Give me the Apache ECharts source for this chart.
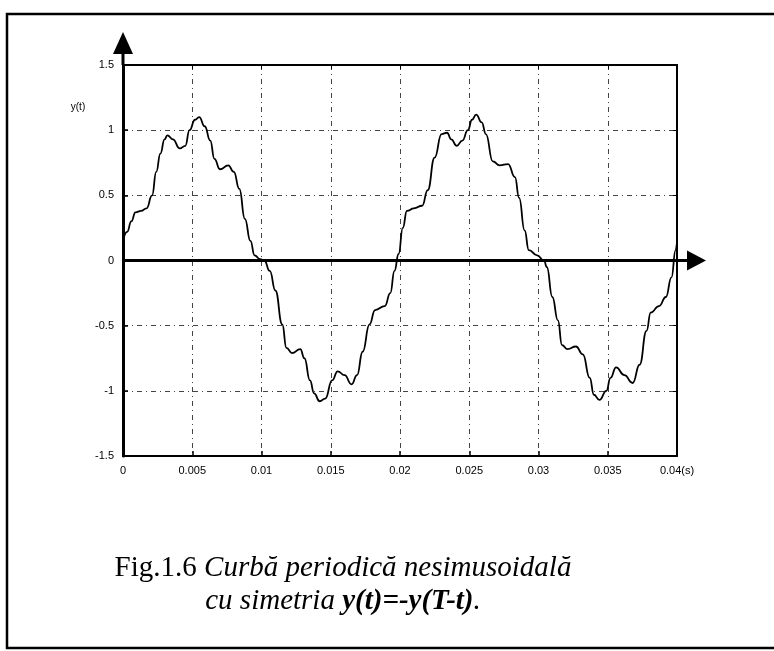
<!DOCTYPE html>
<html>
<head>
<meta charset="utf-8">
<script src="https://cdn.jsdelivr.net/npm/echarts@6/dist/echarts.min.js"></script>
<style>
  html, body { margin: 0; padding: 0; background: #fff; }
  #chart { width: 774px; height: 651px; }
</style>
</head>
<body>
<div id="chart"></div>
<script>
// time (s) and value
const tValues = [
  0, 0.0003, 0.0006, 0.0009, 0.0013, 0.0017, 0.0021, 0.0024, 0.0027, 0.0030,
  0.0032, 0.0036, 0.0041, 0.0045, 0.0048, 0.0052, 0.0055, 0.0059, 0.0063, 0.0066,
  0.0070, 0.0076, 0.0080, 0.0084, 0.0088, 0.0092, 0.0095, 0.0099, 0.0102, 0.0106,
  0.0110, 0.0115, 0.0118, 0.0122, 0.0128, 0.0131, 0.0135, 0.0138, 0.0142, 0.0146,
  0.0151, 0.0155, 0.0160, 0.0165, 0.0169, 0.0173, 0.0178, 0.0182, 0.0189, 0.0193,
  0.0196, 0.0199, 0.0202, 0.0205, 0.0210, 0.0216, 0.0220, 0.0225, 0.0230, 0.0234,
  0.0237, 0.0241, 0.0245, 0.0249, 0.0252, 0.0255, 0.0259, 0.0262, 0.0267, 0.0272,
  0.0278, 0.0283, 0.0286, 0.0290, 0.0293, 0.0299, 0.0304, 0.0306, 0.0310, 0.0314,
  0.0317, 0.0321, 0.0327, 0.0332, 0.0337, 0.0340, 0.0344, 0.0349, 0.0352, 0.0356,
  0.0362, 0.0368, 0.0373, 0.0378, 0.0381, 0.0387, 0.0392, 0.0396, 0.0399, 0.0400
];
const yValues = [
  0.15, 0.22, 0.30, 0.37, 0.38, 0.40, 0.50, 0.68, 0.82, 0.93,
  0.96, 0.93, 0.86, 0.88, 1.00, 1.08, 1.10, 1.03, 0.92, 0.78,
  0.70, 0.73, 0.68, 0.55, 0.32, 0.15, 0.04, 0.01, 0.00, -0.08,
  -0.23, -0.49, -0.67, -0.71, -0.68, -0.75, -0.92, -1.02, -1.08, -1.06,
  -0.92, -0.85, -0.88, -0.95, -0.88, -0.70, -0.49, -0.38, -0.35, -0.25,
  -0.08, 0.05, 0.25, 0.38, 0.40, 0.42, 0.54, 0.79, 0.97, 0.98,
  0.93, 0.88, 0.92, 1.00, 1.08, 1.12, 1.06, 0.97, 0.76, 0.73,
  0.74, 0.64, 0.48, 0.23, 0.08, 0.04, 0.00, -0.05, -0.28, -0.46,
  -0.65, -0.68, -0.66, -0.72, -0.90, -1.03, -1.07, -1.00, -0.90, -0.82,
  -0.88, -0.94, -0.80, -0.54, -0.40, -0.35, -0.28, -0.13, 0.08, 0.14
];
const xTicks = [0, 0.005, 0.01, 0.015, 0.02, 0.025, 0.03, 0.035, 0.04];
const yTicks = [-1.5, -1, -0.5, 0, 0.5, 1, 1.5];

const points = tValues.map((t, i) => [t, yValues[i]]);

const gridLine = { color: '#444', width: 1, type: [5, 4, 1, 4] };
const tickFont = { fontFamily: 'Liberation Sans Narrow, Liberation Sans, sans-serif', fontSize: 11, color: '#000' };

let myChart = echarts.init(document.getElementById('chart'));
let option = {
    backgroundColor: '#fff',
    animation: false,
    grid: { left: 123, right: 97, top: 65, bottom: 195 },
    xAxis: [
        {
            type: 'value',
            min: 0, max: 0.04, interval: 0.005,
            axisLine: { onZero: false, lineStyle: { color: '#000', width: 2 } },
            axisTick: { inside: true, length: 5, lineStyle: { color: '#000', width: 1.5 } },
            axisLabel: Object.assign({}, tickFont, {
                margin: 9,
                formatter: function (v) { return v >= 0.04 ? '0.04(s)' : String(+v.toFixed(3)); }
            }),
            splitLine: { show: true, lineStyle: gridLine }
        },
        {
            type: 'value', position: 'top',
            min: 0, max: 0.04, interval: 0.005,
            axisLine: { show: true, onZero: false, lineStyle: { color: '#000', width: 2 } },
            axisTick: { inside: true, length: 4, lineStyle: { color: '#000' } },
            axisLabel: { show: false },
            splitLine: { show: false }
        }
    ],
    yAxis: [
        {
            type: 'value',
            min: -1.5, max: 1.5, interval: 0.5,
            axisLine: { show: true, onZero: false, lineStyle: { color: '#000', width: 3 } },
            axisTick: { inside: true, length: 5, lineStyle: { color: '#000', width: 1.5 } },
            axisLabel: Object.assign({}, tickFont, { margin: 9 }),
            splitLine: { show: true, lineStyle: gridLine }
        },
        {
            type: 'value', position: 'right',
            min: -1.5, max: 1.5, interval: 0.5,
            axisLine: { show: true, onZero: false, lineStyle: { color: '#000', width: 2 } },
            axisTick: { inside: true, length: 4, lineStyle: { color: '#000' } },
            axisLabel: { show: false },
            splitLine: { show: false }
        }
    ],
    series: [
        {
            type: 'line',
            data: points,
            showSymbol: false,
            smooth: 0.5,
            smoothMonotone: 'x',
            lineStyle: { color: '#000', width: 1.8 },
            z: 5
        }
    ]
};
myChart.setOption(option);

// thick zero axes with arrows, frame, y label and caption
const p0 = myChart.convertToPixel({ gridIndex: 0 }, [0, 0]);
const pTop = myChart.convertToPixel({ gridIndex: 0 }, [0, 1.5]);
const pEnd = myChart.convertToPixel({ gridIndex: 0 }, [0.04, 0]);
const yTip = pTop[1] - 33;
const xTip = pEnd[0] + 29;

myChart.setOption({
    graphic: [
        { type: 'rect', shape: { x: 7, y: 14, width: 800, height: 634 },
          style: { fill: 'none', stroke: '#000', lineWidth: 2.5 }, z: 1 },
        { type: 'line', shape: { x1: p0[0], y1: p0[1], x2: xTip - 10, y2: p0[1] },
          style: { stroke: '#000', lineWidth: 3 }, z: 10 },
        { type: 'polygon', shape: { points: [[xTip - 19, p0[1] - 10], [xTip, p0[1]], [xTip - 19, p0[1] + 10]] },
          style: { fill: '#000' }, z: 10 },
        { type: 'line', shape: { x1: p0[0], y1: pTop[1], x2: p0[0], y2: yTip + 10 },
          style: { stroke: '#000', lineWidth: 3 }, z: 10 },
        { type: 'polygon', shape: { points: [[p0[0] - 10, yTip + 22], [p0[0], yTip], [p0[0] + 10, yTip + 22]] },
          style: { fill: '#000' }, z: 10 },
        { type: 'text', x: 78, y: 107,
          style: { text: 'y(t)', fontSize: 10, fontFamily: 'Liberation Sans, sans-serif', fill: '#000',
                   align: 'center', verticalAlign: 'middle' }, z: 10 },
        { type: 'text', x: 343, y: 585,
          style: {
              text: '{n|Fig.1.6 }{i|Curbă periodică nesimusoidală}\n{i|cu simetria }{b|y(t)=-y(T-t)}{i|.}',
              align: 'center', verticalAlign: 'middle', lineHeight: 33,
              rich: {
                  n: { fontFamily: 'Liberation Serif', fontSize: 29, fill: '#000', lineHeight: 33 },
                  i: { fontFamily: 'Liberation Serif', fontSize: 29, fontStyle: 'italic', fill: '#000', lineHeight: 33 },
                  b: { fontFamily: 'Liberation Serif', fontSize: 29, fontStyle: 'italic', fontWeight: 'bold', fill: '#000', lineHeight: 33 }
              }
          }, z: 10 }
    ]
});
</script>
</body>
</html>
